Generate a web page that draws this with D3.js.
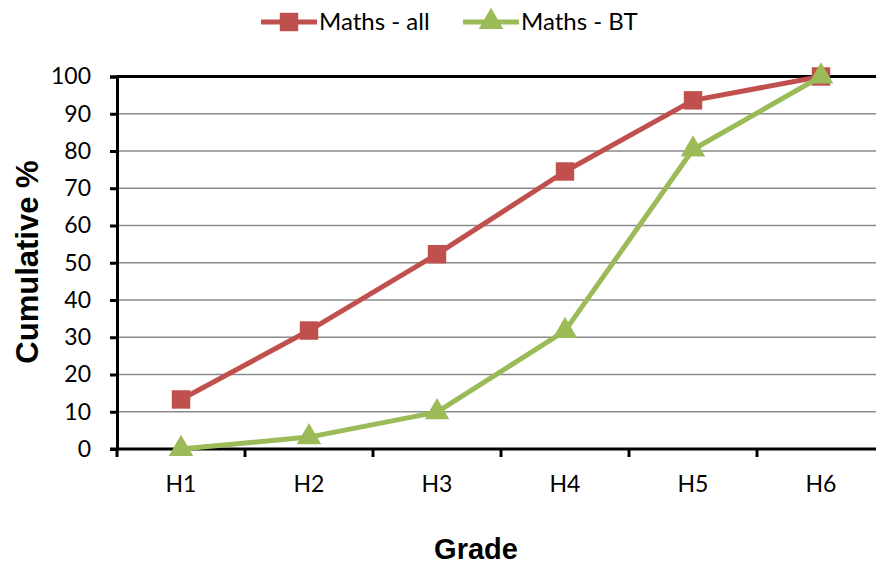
<!DOCTYPE html>
<html>
<head>
<meta charset="utf-8">
<script src="https://cdn.jsdelivr.net/npm/d3@7"></script>
<style>
  html, body { margin: 0; padding: 0; background: #fff; }
  svg { display: block; }
</style>
</head>
<body>
<svg id="chart" width="876" height="565"></svg>
<script>
// Cumulative percentage of students reaching each grade
const grades = ["H1", "H2", "H3", "H4", "H5", "H6"];
const mathsAll = [13.3, 31.8, 52.3, 74.5, 93.6, 100];
const mathsBT = [0, 3.2, 9.9, 31.7, 80.4, 100];
const yTicks = [0, 10, 20, 30, 40, 50, 60, 70, 80, 90, 100];
const seriesNames = ["Maths - all", "Maths - BT"];
const seriesColors = ["#C0504D", "#9BBB59"];

const svg = d3.select("#chart");
const plotLeft = 117, plotRight = 885, plotTop = 76.5, plotBottom = 449;
const labelFont = "Lato, 'Open Sans', sans-serif";
const titleFont = "'Liberation Sans', Arial, sans-serif";

const x = d3.scaleBand().domain(grades).range([plotLeft, plotRight]);
const y = d3.scaleLinear().domain([0, 100]).range([plotBottom, plotTop]);

// Horizontal gridlines
svg.append("g")
  .selectAll("line")
  .data(yTicks.filter(t => t > 0 && t < 100))
  .join("line")
  .attr("x1", plotLeft).attr("x2", plotRight)
  .attr("y1", d => y(d)).attr("y2", d => y(d))
  .attr("stroke", "#8a8a8a").attr("stroke-width", 1.5);

// Top border of the plot area
svg.append("line")
  .attr("x1", plotLeft).attr("x2", plotRight)
  .attr("y1", y(100)).attr("y2", y(100))
  .attr("stroke", "#000").attr("stroke-width", 3);

// Y axis
const yAxis = svg.append("g")
  .attr("transform", `translate(${plotLeft},0)`)
  .call(d3.axisLeft(y).tickValues(yTicks).tickSize(7).tickPadding(19).tickFormat(d3.format("d")));
yAxis.select(".domain").attr("stroke", "#000").attr("stroke-width", 3);
yAxis.selectAll(".tick line").attr("stroke", "#000").attr("stroke-width", 3);
yAxis.selectAll("text")
  .attr("font-family", labelFont).attr("font-size", 23).attr("fill", "#000");

// X axis with ticks at category boundaries
const xAxisG = svg.append("g").attr("transform", `translate(0,${plotBottom})`);
xAxisG.append("line")
  .attr("x1", plotLeft - 7).attr("x2", plotRight)
  .attr("stroke", "#000").attr("stroke-width", 3);
const boundaries = grades.map(g => x(g)).concat([x(grades[grades.length - 1]) + x.bandwidth()]);
xAxisG.selectAll("line.tick")
  .data(boundaries)
  .join("line")
  .attr("class", "tick")
  .attr("x1", d => d).attr("x2", d => d)
  .attr("y1", 0).attr("y2", 8)
  .attr("stroke", "#000").attr("stroke-width", 3);
xAxisG.selectAll("text")
  .data(grades)
  .join("text")
  .attr("x", d => x(d) + x.bandwidth() / 2)
  .attr("y", 43)
  .attr("text-anchor", "middle")
  .attr("font-family", labelFont).attr("font-size", 23).attr("fill", "#000")
  .text(d => d);

// Axis titles
svg.append("text")
  .attr("x", 476).attr("y", 559)
  .attr("text-anchor", "middle")
  .attr("font-family", titleFont).attr("font-weight", "bold").attr("font-size", 29)
  .text("Grade");
svg.append("text")
  .attr("transform", "translate(38,262) rotate(-90)")
  .attr("text-anchor", "middle")
  .attr("font-family", titleFont).attr("font-weight", "bold").attr("font-size", 31)
  .text("Cumulative %");

// Series lines and markers
const line = d3.line()
  .x((d, i) => x(grades[i]) + x.bandwidth() / 2)
  .y(d => y(d));

const squareSym = d3.symbol().type(d3.symbolSquare).size(340);
const triSym = d3.symbol().type(d3.symbolTriangle).size(260);

function drawSeries(values, color, sym) {
  const g = svg.append("g");
  g.append("path")
    .datum(values)
    .attr("d", line)
    .attr("fill", "none")
    .attr("stroke", color)
    .attr("stroke-width", 5)
    .attr("stroke-linejoin", "round");
  g.selectAll("path.m")
    .data(values)
    .join("path")
    .attr("class", "m")
    .attr("d", sym)
    .attr("transform", (d, i) => `translate(${x(grades[i]) + x.bandwidth() / 2},${y(d)})`)
    .attr("fill", color);
}
drawSeries(mathsAll, seriesColors[0], squareSym);
drawSeries(mathsBT, seriesColors[1], triSym);

// Legend
const legend = svg.append("g").attr("transform", "translate(0,22)");
const legendItems = [
  { name: seriesNames[0], color: seriesColors[0], sym: squareSym, x0: 261 },
  { name: seriesNames[1], color: seriesColors[1], sym: triSym, x0: 463 }
];
legendItems.forEach(it => {
  legend.append("line")
    .attr("x1", it.x0).attr("x2", it.x0 + 56)
    .attr("y1", 0).attr("y2", 0)
    .attr("stroke", it.color).attr("stroke-width", 5);
  legend.append("path")
    .attr("d", it.sym)
    .attr("transform", `translate(${it.x0 + 28},0)`)
    .attr("fill", it.color);
  legend.append("text")
    .attr("x", it.x0 + 58).attr("y", 8)
    .attr("font-family", labelFont).attr("font-size", 24).attr("fill", "#000")
    .text(it.name);
});
</script>
</body>
</html>
